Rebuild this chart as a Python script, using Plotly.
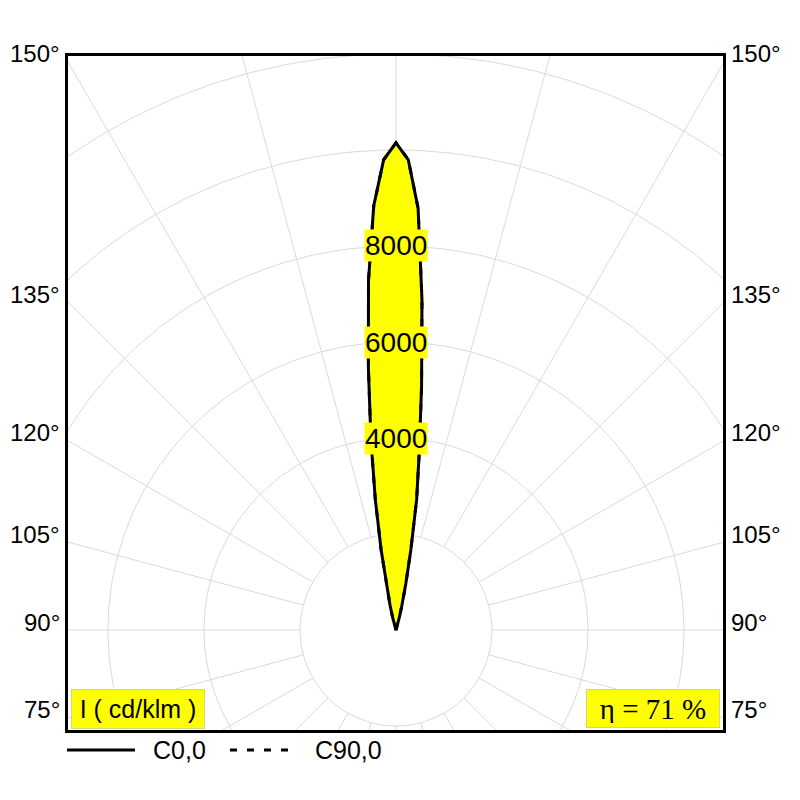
import numpy as np
import plotly.graph_objects as go

# photometric data: gamma angle (deg from nadir) and intensity in cd/klm
gamma = [150, 162, 163.5, 165, 166.5, 168, 169.5, 171, 172.5, 174, 175.5, 177, 178.5,
         180, 181.5, 183, 184.5, 186, 187.5, 189, 190.5, 192, 193.5, 195, 196.5, 198, 210]
c0 = [0, 40, 120, 270, 530, 980, 1700, 2750, 3700, 5100, 6900, 8800, 9800,
      10150, 9800, 8850, 7300, 5500, 4000, 2750, 1700, 980, 530, 270, 120, 40, 0]
c90 = [0, 40, 120, 270, 530, 980, 1700, 2750, 3700, 5100, 6900, 8800, 9800,
       10150, 9800, 8850, 7300, 5500, 4000, 2750, 1700, 980, 530, 270, 120, 40, 0]

ring_values = [2000, 4000, 6000, 8000, 10000, 12000, 14000]
ring_labels = [4000, 6000, 8000]
spoke_step = 15
side_angles = [75, 90, 105, 120, 135, 150]
efficiency = 71

x_range = [-6833, 6813]
y_range = [-2083, 11958]


def to_xy(g, r):
    g = np.radians(np.asarray(g, dtype=float))
    r = np.asarray(r, dtype=float)
    return r * np.sin(g), -r * np.cos(g)


fig = go.Figure()

# grid rings
t = np.linspace(0, 360, 361)
gx, gy = [], []
for rv in ring_values:
    x, y = to_xy(t, np.full_like(t, rv))
    gx += list(x) + [None]
    gy += list(y) + [None]
# spokes start at the first ring
for a in range(0, 360, spoke_step):
    x, y = to_xy([a, a], [ring_values[0], 20000])
    gx += list(x) + [None]
    gy += list(y) + [None]
fig.add_trace(go.Scatter(x=gx, y=gy, mode="lines", line=dict(color="#dadada", width=1),
                         hoverinfo="skip", showlegend=False))

x0, y0 = to_xy(gamma, c0)
fig.add_trace(go.Scatter(x=x0, y=y0, mode="lines", fill="toself", fillcolor="#ffff00",
                         line=dict(color="black", width=3), name="C0,0", showlegend=False))
x90, y90 = to_xy(gamma, c90)
fig.add_trace(go.Scatter(x=x90, y=y90, mode="lines",
                         line=dict(color="black", width=3, dash="7px,10px"),
                         name="C90,0", showlegend=False))

ann = []
for v in ring_labels:
    ann.append(dict(x=0, y=v, xref="x", yref="y", text=str(v), showarrow=False,
                    font=dict(size=28, color="black"), bgcolor="#ffff00", borderpad=0))

for a in side_angles:
    ya = x_range[0] * np.cos(np.radians(a)) / np.sin(np.radians(a))
    ann.append(dict(x=x_range[0], y=ya, xref="x", yref="y", text=f"{a}°", showarrow=False,
                    xanchor="right", xshift=-6, yshift=8, font=dict(size=24, color="black")))
    ann.append(dict(x=x_range[1], y=ya, xref="x", yref="y", text=f"{a}°", showarrow=False,
                    xanchor="left", xshift=6, yshift=8, font=dict(size=24, color="black")))

ann.append(dict(x=0, y=0, xref="paper", yref="paper", xanchor="left", yanchor="bottom",
                xshift=3, yshift=1, text="I ( cd/klm )", showarrow=False,
                font=dict(size=25, color="black"), bgcolor="#ffff00",
                bordercolor="#d6d67a", borderwidth=1, borderpad=4, width=124, height=30))
ann.append(dict(x=1, y=0, xref="paper", yref="paper", xanchor="right", yanchor="bottom",
                xshift=-3, yshift=2, text=f"η = {efficiency} %", showarrow=False,
                font=dict(size=29, color="black", family="Liberation Serif, Times New Roman"),
                bgcolor="#ffff00", bordercolor="#d6d67a", borderwidth=1, borderpad=4,
                width=124, height=29))

# legend drawn by hand
leg_y = -0.0297
ann.append(dict(x=0.1267, y=leg_y, xref="paper", yref="paper", xanchor="left", yanchor="middle",
                text="C0,0", showarrow=False, font=dict(size=25, color="black")))
ann.append(dict(x=0.374, y=leg_y, xref="paper", yref="paper", xanchor="left", yanchor="middle",
                text="C90,0", showarrow=False, font=dict(size=25, color="black")))
shapes = [
    dict(type="line", xref="paper", yref="paper", x0=-0.0015, x1=0.1023, y0=leg_y, y1=leg_y,
         line=dict(color="black", width=3)),
    dict(type="line", xref="paper", yref="paper", x0=0.2473, x1=0.3359, y0=leg_y, y1=leg_y,
         line=dict(color="black", width=3, dash="7px,10px")),
]

fig.update_xaxes(range=x_range, showgrid=False, zeroline=False, showticklabels=False,
                 showline=True, mirror=True, linecolor="black", linewidth=3, ticks="")
fig.update_yaxes(range=y_range, showgrid=False, zeroline=False, showticklabels=False,
                 showline=True, mirror=True, linecolor="black", linewidth=3, ticks="")
fig.update_layout(
    width=800, height=800,
    margin=dict(l=60, r=85, t=48, b=78),
    plot_bgcolor="white", paper_bgcolor="white",
    font=dict(family="Liberation Sans, Arial", color="black"),
    annotations=ann, shapes=shapes,
    showlegend=False,
)
fig.write_html("out.html")
